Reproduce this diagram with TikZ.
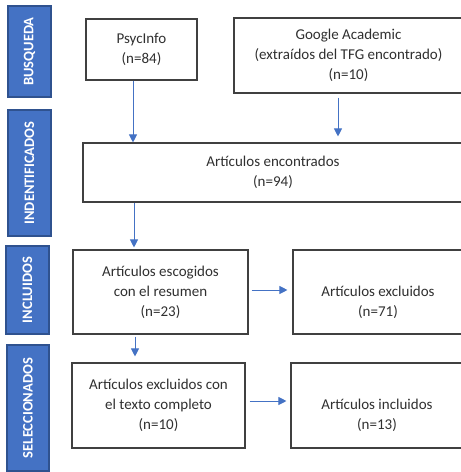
\documentclass[tikz,border=0pt]{standalone}
\usepackage{fontspec}
\setmainfont{Carlito}
\usetikzlibrary{arrows.meta}
\definecolor{bluefill}{HTML}{4472C4}
\definecolor{blueedge}{HTML}{2F528F}
\definecolor{boxedge}{HTML}{404040}
\definecolor{txtcol}{HTML}{303030}
\tikzset{
  side/.style={draw=blueedge, line width=1.4pt, fill=bluefill, rotate=90, inner sep=0pt,
    font=\fontsize{14.5}{17}\selectfont\bfseries, text=white},
  wbox/.style={draw=boxedge, line width=1.1pt, fill=white, inner sep=0pt, align=center,
    font=\fontsize{15}{20}\selectfont, text=txtcol},
  txt/.style={inner sep=0pt, align=center, font=\fontsize{15}{20}\selectfont, text=txtcol},
  arr/.style={draw=bluefill, line width=0.9pt, -{Triangle[length=8pt,width=8pt]}}
}
\begin{document}
\begin{tikzpicture}[x=1pt,y=-1pt]
\useasboundingbox (0,0) rectangle (461,472);
\clip (0,0) rectangle (461,472);
% side labels
\node[side, minimum width=91pt, minimum height=43pt] (busq) at (29.5,51.5) {BUSQUEDA};
\node[side, minimum width=126pt, minimum height=43pt] (ident) at (29.5,173) {INDENTIFICADOS};
\node[side, minimum width=88pt, minimum height=43pt] (incl) at (27.5,290) {INCLUIDOS};
\node[side, minimum width=126pt, minimum height=42pt] (selec) at (28,408) {SELECCIONADOS};
% boxes
\node[wbox, minimum width=111pt, minimum height=61pt] (psyc) at (141.5,49.5) {PsycInfo\\(n=84)};
\node[wbox, minimum width=229pt, minimum height=75pt] (goog) at (348.5,55.5) {Google Academic\\(extraídos del TFG encontrado)\\(n=10)};
\node[wbox, minimum width=380pt, minimum height=59pt] (enc) at (273,172.5) {Artículos encontrados\\(n=94)};
\node[wbox, minimum width=175pt, minimum height=84pt] (esc) at (160.5,292) {Artículos escogidos\\con el resumen\\(n=23)};
\node[wbox, minimum width=170pt, minimum height=84pt] (exc) at (378,292) {};
\node[txt] (exctxt) at (378,302) {Artículos excluidos\\(n=71)};
\node[wbox, minimum width=173pt, minimum height=85pt] (texto) at (158.5,405.5) {Artículos excluidos con\\el texto completo\\(n=10)};
\node[wbox, minimum width=172pt, minimum height=85pt] (inc) at (377,405.5) {};
\node[txt] (inctxt) at (377,415) {Artículos incluidos\\(n=13)};
% arrow guide coordinates
\coordinate (c1) at (133,0);
\coordinate (c2) at (338,0);
\coordinate (c3) at (134,0);
\coordinate (c4) at (135,0);
\coordinate (r1) at (0,290);
\coordinate (r2) at (0,401);
% connectors
\draw[arr] (psyc.south -| c1) -- (enc.north -| c1);
\draw[arr, shorten <=4pt, shorten >=6pt] (goog.south -| c2) -- (enc.north -| c2);
\draw[arr, shorten >=2pt] (enc.south -| c3) -- (esc.north -| c3);
\draw[arr, shorten <=2pt, shorten >=6pt] (esc.south -| c4) -- (texto.north -| c4);
\draw[arr, shorten <=3pt, shorten >=5pt] (esc.east |- r1) -- (exc.west |- r1);
\draw[arr, shorten <=4pt, shorten >=4pt] (texto.east |- r2) -- (inc.west |- r2);
\end{tikzpicture}
\end{document}
